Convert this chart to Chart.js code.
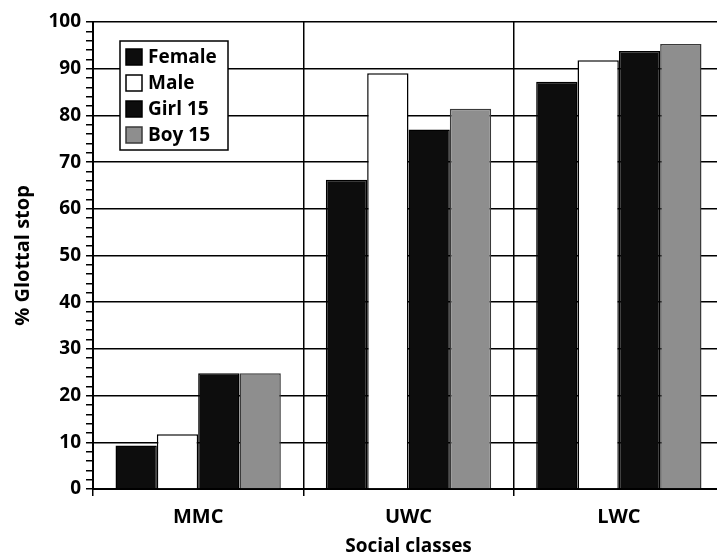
<!DOCTYPE html>
<html lang="en"><head><meta charset="utf-8">
<title>Glottal stop by social class</title>
<script src="https://cdn.jsdelivr.net/npm/chart.js@4.4.0/dist/chart.umd.min.js"></script>
<style>
  html, body { margin: 0; padding: 0; background: #fff; overflow: hidden; }
  #chart { display: block; }
</style>
</head>
<body>
<canvas id="chart" width="724" height="556"></canvas>
<script>
// data
const classes = ['MMC', 'UWC', 'LWC'];
const female = [9.3, 66.2, 87.2];
const male = [11.7, 89.0, 91.8];
const girl15 = [24.8, 77.0, 93.8];
const boy15 = [24.8, 81.4, 95.3];
const seriesNames = ['Female', 'Male', 'Girl 15', 'Boy 15'];

const fontFam = "'Open Sans', 'DejaVu Sans', sans-serif";

// legend box drawn inside the plot, top left
const boxLegend = {
  id: 'boxLegend',
  afterDatasetsDraw(chart) {
    const c = chart.ctx;
    const a = chart.chartArea;
    const x0 = a.left + 27, y0 = a.top + 19;
    c.save();
    c.fillStyle = '#fff';
    c.fillRect(x0, y0, 108, 109);
    c.strokeStyle = '#000';
    c.lineWidth = 1.5;
    c.strokeRect(x0, y0, 108, 109);
    c.font = 'bold 19px ' + fontFam;
    c.textBaseline = 'middle';
    chart.data.datasets.forEach((ds, i) => {
      const cy = y0 + 16 + i * 26;
      c.fillStyle = ds.backgroundColor;
      c.fillRect(x0 + 6, cy - 8, 16, 16);
      c.strokeStyle = ds.borderColor;
      c.lineWidth = 1.5;
      c.strokeRect(x0 + 6, cy - 8, 16, 16);
      c.fillStyle = '#000';
      c.fillText(ds.label, x0 + 28, cy + 1);
    });
    c.restore();
  }
};

const colours = ['#0d0d0d', '#ffffff', '#0d0d0d', '#8e8e8e'];
const edges = ['#000', '#000', '#000', '#3a3a3a'];
const values = [female, male, girl15, boy15];

new Chart(document.getElementById('chart'), {
  type: 'bar',
  data: {
    labels: classes,
    datasets: seriesNames.map((n, i) => ({
      label: n,
      data: values[i],
      backgroundColor: colours[i],
      borderColor: edges[i],
      borderWidth: 1.5,
      categoryPercentage: 0.786,
      barPercentage: 1.0,
    }))
  },
  options: {
    responsive: false,
    devicePixelRatio: 1,
    animation: false,
    layout: { padding: { top: 22, left: 0, right: 0, bottom: 0 } },
    plugins: { legend: { display: false }, tooltip: { enabled: false } },
    scales: {
      x: {
        afterFit(s) { s.height = 67; },
        grid: { offset: true, color: '#000', lineWidth: 1.5, tickLength: 7 },
        border: { color: '#000', width: 2 },
        ticks: { color: '#000', padding: 9, font: { family: fontFam, size: 20, weight: 'bold' } },
        title: { display: true, text: 'Social classes', color: '#000',
                 font: { family: fontFam, size: 19, weight: 'bold' }, padding: { top: 0, bottom: -2 } }
      },
      y: {
        min: 0, max: 100,
        afterFit(s) { s.width = 93; },
        grid: {
          color: (ctx) => (ctx.tick && ctx.tick.value % 10 === 0) ? '#000' : 'rgba(0,0,0,0)',
          tickColor: '#000', lineWidth: 1.5, tickLength: 7
        },
        border: { color: '#000', width: 2 },
        ticks: {
          stepSize: 2, autoSkip: false, color: '#000', padding: 5,
          font: { family: fontFam, size: 19, weight: 'bold' },
          callback: (v) => v % 10 === 0 ? v : ''
        },
        title: { display: true, text: '% Glottal stop', color: '#000',
                 font: { family: fontFam, size: 20, weight: 'bold' }, padding: { top: 11, bottom: 0 } }
      }
    }
  },
  plugins: [boxLegend]
});
</script>
</body></html>
